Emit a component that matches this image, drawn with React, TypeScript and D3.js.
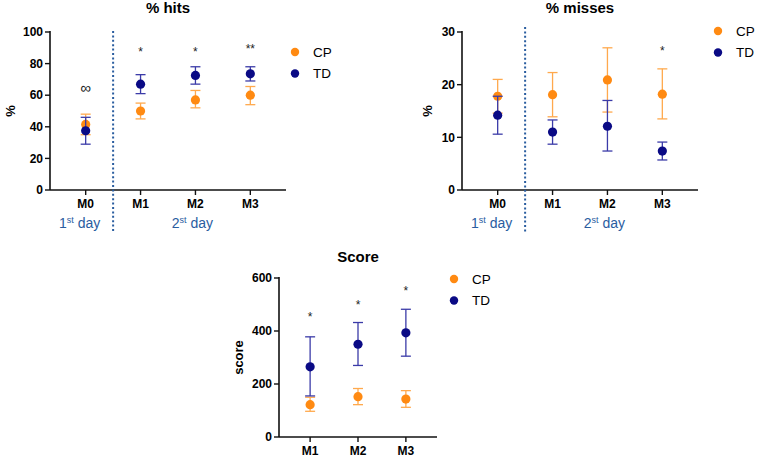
import * as d3 from "d3"

// ---- data ----
const sessions = ["M0", "M1", "M2", "M3"]
const scoreSessions = ["M1", "M2", "M3"]

const hitsCP = [41.5, 50, 57, 60]
const hitsCPLow = [35, 45, 52, 54]
const hitsCPHigh = [48, 55, 63, 65.5]
const hitsTD = [37.5, 67, 72.5, 73.5]
const hitsTDLow = [29, 61, 67, 69]
const hitsTDHigh = [46, 73, 78, 78]
const hitsMarks = ["∞", "*", "*", "**"]
const hitsMarkAt = [65, 90, 90, 92]
const hitsTicks = [0, 20, 40, 60, 80, 100]

const missCP = [17.8, 18.1, 20.9, 18.2]
const missCPLow = [14.6, 13.9, 14.8, 13.5]
const missCPHigh = [21, 22.3, 27, 23]
const missTD = [14.2, 11, 12.1, 7.4]
const missTDLow = [10.6, 8.7, 7.4, 5.7]
const missTDHigh = [17.8, 13.3, 17, 9.1]
const missMarks = ["", "", "", "*"]
const missMarkAt = [0, 0, 0, 27.3]
const missTicks = [0, 10, 20, 30]

const scoreCP = [122, 152, 143]
const scoreCPLow = [97, 122, 112]
const scoreCPHigh = [150, 183, 175]
const scoreTD = [265, 350, 393]
const scoreTDLow = [155, 270, 305]
const scoreTDHigh = [378, 432, 482]
const scoreMarks = ["*", "*", "*"]
const scoreMarkAt = [468, 513, 566]
const scoreTicks = [0, 200, 400, 600]

const groups = ["CP", "TD"]
const ORANGE = "#ff8a12"
const NAVY = "#0a0a85"
const ORANGE_BAR = "#ffa94d"
const NAVY_BAR = "#3b3ba8"
const BLUE_TXT = "#2a5d9f"
const FONT = "'Liberation Sans', Arial, Helvetica, sans-serif"

interface PanelProps {
  title: string
  yLabel: string
  cats: string[]
  ticks: number[]
  yMax: number
  left: number
  right: number
  top: number
  bottom: number
  titleY: number
  yLabelX: number
  legendX: number
  legendY: number
  cp: number[]
  cpLow: number[]
  cpHigh: number[]
  td: number[]
  tdLow: number[]
  tdHigh: number[]
  marks: string[]
  markAt: number[]
  divider?: { top: number }
}

function Panel(p: PanelProps) {
  const x = d3.scalePoint<string>().domain(p.cats).range([p.left, p.right]).padding(0.65)
  const y = d3.scaleLinear().domain([0, p.yMax]).range([p.bottom, p.top])
  const cx = (i: number) => x(p.cats[i]) as number

  const series = [
    { mean: p.cp, low: p.cpLow, high: p.cpHigh, color: ORANGE, bar: ORANGE_BAR },
    { mean: p.td, low: p.tdLow, high: p.tdHigh, color: NAVY, bar: NAVY_BAR },
  ]

  const divX = p.divider ? (cx(0) + cx(1)) / 2 : 0

  return (
    <g fontFamily={FONT}>
      <text x={(p.left + p.right) / 2} y={p.titleY} textAnchor="middle" fontSize={15} fontWeight="bold">
        {p.title}
      </text>

      {/* y axis */}
      <line x1={p.left} x2={p.left} y1={p.top - 1} y2={p.bottom} stroke="#111" strokeWidth={1.6} />
      {p.ticks.map((t) => (
        <g key={t}>
          <line x1={p.left - 5} x2={p.left} y1={y(t)} y2={y(t)} stroke="#111" strokeWidth={1.4} />
          <text x={p.left - 7} y={y(t)} dy="0.35em" textAnchor="end" fontSize={12} fontWeight="bold">
            {t}
          </text>
        </g>
      ))}
      <text
        transform={`translate(${p.yLabelX},${(p.top + p.bottom) / 2}) rotate(-90)`}
        textAnchor="middle"
        fontSize={13}
        fontWeight="bold"
      >
        {p.yLabel}
      </text>

      {/* x axis */}
      <line x1={p.left} x2={p.right} y1={p.bottom} y2={p.bottom} stroke="#111" strokeWidth={1.6} />
      {p.cats.map((c) => (
        <g key={c}>
          <line x1={x(c)} x2={x(c)} y1={p.bottom} y2={p.bottom + 5} stroke="#111" strokeWidth={1.4} />
          <text x={x(c)} y={p.bottom + 18} textAnchor="middle" fontSize={12} fontWeight="bold">
            {c}
          </text>
        </g>
      ))}

      {p.divider && (
        <g>
          <line
            x1={divX}
            x2={divX}
            y1={p.divider.top}
            y2={p.bottom + 42}
            stroke={BLUE_TXT}
            strokeWidth={2}
            strokeDasharray="2,2.4"
          />
          <text x={cx(0) - 6} y={p.bottom + 38} textAnchor="middle" fontSize={14} fill={BLUE_TXT}>
            1<tspan fontSize={9} dy={-5}>st</tspan>
            <tspan dy={5}> day</tspan>
          </text>
          <text x={cx(2) - 3} y={p.bottom + 38} textAnchor="middle" fontSize={14} fill={BLUE_TXT}>
            2<tspan fontSize={9} dy={-5}>st</tspan>
            <tspan dy={5}> day</tspan>
          </text>
        </g>
      )}

      {/* error bars + points */}
      {series.map((s, si) => (
        <g key={si}>
          {s.mean.map((m, i) => (
            <g key={i}>
              <line x1={cx(i)} x2={cx(i)} y1={y(s.low[i])} y2={y(s.high[i])} stroke={s.bar} strokeWidth={1.3} />
              <line x1={cx(i) - 5} x2={cx(i) + 5} y1={y(s.low[i])} y2={y(s.low[i])} stroke={s.bar} strokeWidth={1.3} />
              <line x1={cx(i) - 5} x2={cx(i) + 5} y1={y(s.high[i])} y2={y(s.high[i])} stroke={s.bar} strokeWidth={1.3} />
              <circle cx={cx(i)} cy={y(m)} r={4.6} fill={s.color} />
            </g>
          ))}
        </g>
      ))}

      {/* significance marks */}
      {p.marks.map((mk, i) =>
        mk ? (
          <text
            key={i}
            x={cx(i)}
            y={y(p.markAt[i])}
            dy={mk === "∞" ? "0.35em" : "0.7em"}
            textAnchor="middle"
            fontSize={mk === "∞" ? 15 : 12}
            fill="#222"
          >
            {mk}
          </text>
        ) : null
      )}

      {/* legend */}
      {groups.map((g, i) => (
        <g key={g} transform={`translate(${p.legendX},${p.legendY + i * 21.5})`}>
          <circle r={4.2} fill={i === 0 ? ORANGE : NAVY} />
          <text x={18} dy="0.35em" fontSize={13.5}>
            {g}
          </text>
        </g>
      ))}
    </g>
  )
}

export default function App() {
  return (
    <svg
      width={758}
      height={459}
      style={{ position: "absolute", left: 0, top: 0, background: "#fff" }}
    >
      <Panel
        title="% hits"
        yLabel="%"
        cats={sessions}
        ticks={hitsTicks}
        yMax={100}
        left={50}
        right={286}
        top={32}
        bottom={190}
        titleY={13}
        yLabelX={15}
        legendX={295}
        legendY={52}
        cp={hitsCP}
        cpLow={hitsCPLow}
        cpHigh={hitsCPHigh}
        td={hitsTD}
        tdLow={hitsTDLow}
        tdHigh={hitsTDHigh}
        marks={hitsMarks}
        markAt={hitsMarkAt}
        divider={{ top: 31 }}
      />
      <Panel
        title="% misses"
        yLabel="%"
        cats={sessions}
        ticks={missTicks}
        yMax={30}
        left={462}
        right={698}
        top={32}
        bottom={190}
        titleY={13}
        yLabelX={432}
        legendX={718}
        legendY={31}
        cp={missCP}
        cpLow={missCPLow}
        cpHigh={missCPHigh}
        td={missTD}
        tdLow={missTDLow}
        tdHigh={missTDHigh}
        marks={missMarks}
        markAt={missMarkAt}
        divider={{ top: 27 }}
      />
      <Panel
        title="Score"
        yLabel="score"
        cats={scoreSessions}
        ticks={scoreTicks}
        yMax={600}
        left={279}
        right={437}
        top={278}
        bottom={437}
        titleY={262}
        yLabelX={243}
        legendX={454}
        legendY={279}
        cp={scoreCP}
        cpLow={scoreCPLow}
        cpHigh={scoreCPHigh}
        td={scoreTD}
        tdLow={scoreTDLow}
        tdHigh={scoreTDHigh}
        marks={scoreMarks}
        markAt={scoreMarkAt}
      />
    </svg>
  )
}
